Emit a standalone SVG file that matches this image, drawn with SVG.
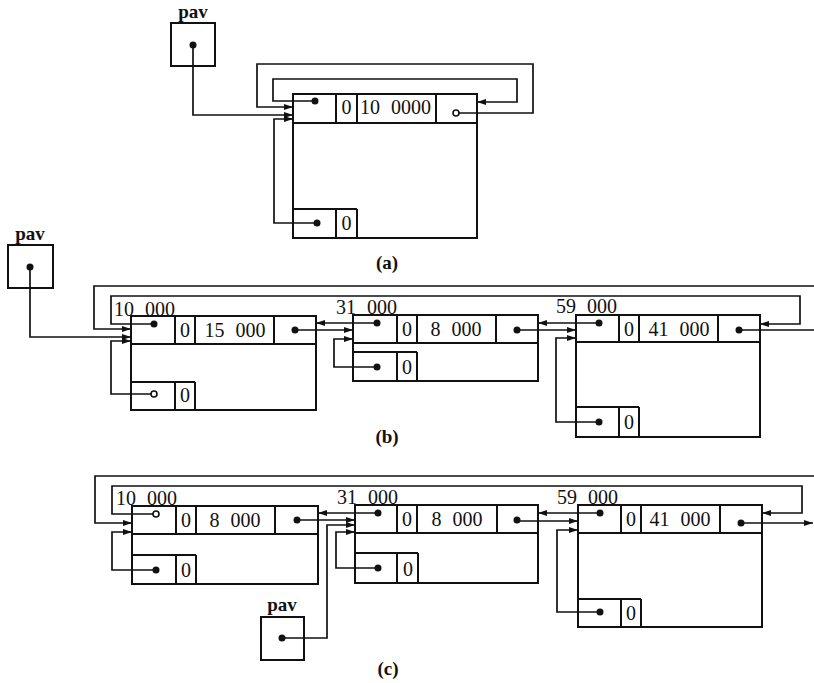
<svg xmlns="http://www.w3.org/2000/svg" width="814" height="683" viewBox="0 0 814 683">
<style>
.b{fill:none;stroke:#111;stroke-width:2}
.c{fill:none;stroke:#111;stroke-width:1.7}
.t{font-family:"Liberation Serif","DejaVu Serif",serif;font-size:20px;fill:#111;word-spacing:6px}
.m{text-anchor:middle}
.l{font-family:"Liberation Serif","DejaVu Serif",serif;font-size:19px;font-weight:bold;fill:#111;text-anchor:middle}
.d{fill:#111}
.o{fill:#fff;stroke:#111;stroke-width:1.6}
</style>
<defs>
<marker id="ar" markerWidth="9" markerHeight="6" refX="9" refY="3" orient="auto" markerUnits="userSpaceOnUse">
<path d="M0,0 L9,3 L0,6 z" fill="#111"/>
</marker>
</defs>

<rect width="814" height="683" fill="#fff"/>

<g id="connectors">
<!-- (a) -->
<path class="c" d="M193,45 V115 H293" marker-end="url(#ar)"/>
<path class="c" d="M459,113 H533 V64 H257 V107 H293" marker-end="url(#ar)"/>
<path class="c" d="M315,101 H273 V79 H517 V102 H477" marker-end="url(#ar)"/>
<path class="c" d="M317,223 H274 V119 H293" marker-end="url(#ar)"/>
<!-- (b) -->
<path class="c" d="M30,267 V337 H131" marker-end="url(#ar)"/>
<path class="c" d="M739,330 H830 V286 H94 V329 H131" marker-end="url(#ar)"/>
<path class="c" d="M154,324 H111 V296 H800 V324 H760" marker-end="url(#ar)"/>
<path class="c" d="M154,394 H111 V341 H131" marker-end="url(#ar)"/>
<path class="c" d="M295,330 H353" marker-end="url(#ar)"/>
<path class="c" d="M377,323 H316" marker-end="url(#ar)"/>
<path class="c" d="M377,367 H334 V339 H353" marker-end="url(#ar)"/>
<path class="c" d="M517,330 H576" marker-end="url(#ar)"/>
<path class="c" d="M599,323 H538" marker-end="url(#ar)"/>
<path class="c" d="M599,422 H556 V338 H576" marker-end="url(#ar)"/>
<!-- (c) -->
<path class="c" d="M741,523 H813" marker-end="url(#ar)"/>
<path class="c" d="M830,476 H95 V523 H132" marker-end="url(#ar)"/>
<path class="c" d="M153,514 H112 V486 H802 V513 H762" marker-end="url(#ar)"/>
<path class="c" d="M156,570 H112 V532 H132" marker-end="url(#ar)"/>
<path class="c" d="M297,520 H355" marker-end="url(#ar)"/>
<path class="c" d="M378,513 H318" marker-end="url(#ar)"/>
<path class="c" d="M282,638 H327 V525 H355" marker-end="url(#ar)"/>
<path class="c" d="M378,568 H336 V532 H355" marker-end="url(#ar)"/>
<path class="c" d="M517,521 H578" marker-end="url(#ar)"/>
<path class="c" d="M600,513 H538" marker-end="url(#ar)"/>
<path class="c" d="M600,612 H557 V530 H578" marker-end="url(#ar)"/>
</g>

<!-- ===== (a) ===== -->
<g id="pav-a">
<text class="l" x="193" y="18">pav</text>
<rect class="b" x="171" y="23" width="44" height="43"/>
<circle class="d" cx="193" cy="45" r="3.5"/>
</g>
<g id="block-a">
<rect class="b" x="293" y="94" width="184" height="144"/>
<path class="b" d="M293,123 H477 M336,94 V123 M357,94 V123 M436,94 V123 M293,209 H357 M336,209 V238 M357,209 V238"/>
<text class="t m" x="346.5" y="114">0</text>
<text class="t" x="360" y="114">10 0000</text>
<text class="t m" x="346.5" y="230">0</text>
<circle class="d" cx="315" cy="101" r="3.5"/>
<circle class="o" cx="456" cy="113" r="3"/>
<circle class="d" cx="317" cy="223" r="3.5"/>
</g>
<text class="l" x="387" y="269">(a)</text>

<!-- ===== (b) ===== -->
<g id="pav-b">
<text class="l" x="30" y="240">pav</text>
<rect class="b" x="8" y="245" width="45" height="43"/>
<circle class="d" cx="30" cy="267" r="3.5"/>
</g>
<g id="block-b1">
<text class="t" x="114" y="316">10 000</text>
<rect class="b" x="131" y="316" width="185" height="94"/>
<path class="b" d="M131,344 H316 M175,316 V344 M195,316 V344 M274,316 V344 M131,382 H195 M175,382 V410 M195,382 V410"/>
<text class="t m" x="185" y="337">0</text>
<text class="t m" x="235" y="337">15 000</text>
<text class="t m" x="185" y="402">0</text>
<circle class="d" cx="154" cy="324" r="3.5"/>
<circle class="d" cx="295" cy="330" r="3.5"/>
<circle class="o" cx="154" cy="394" r="3"/>
</g>
<g id="block-b2">
<text class="t" x="336" y="314">31 000</text>
<rect class="b" x="353" y="315" width="185" height="66"/>
<path class="b" d="M353,343 H538 M397,315 V343 M417,315 V343 M496,315 V343 M353,352 H417 M397,352 V381 M417,352 V381"/>
<text class="t m" x="407" y="336">0</text>
<text class="t m" x="456" y="336">8 000</text>
<text class="t m" x="407" y="374">0</text>
<circle class="d" cx="377" cy="323" r="3.5"/>
<circle class="d" cx="517" cy="330" r="3.5"/>
<circle class="d" cx="377" cy="367" r="3.5"/>
</g>
<g id="block-b3">
<text class="t" x="556" y="313">59 000</text>
<rect class="b" x="576" y="315" width="184" height="122"/>
<path class="b" d="M576,342 H760 M619,315 V342 M639,315 V342 M718,315 V342 M576,407 H639 M619,407 V437 M639,407 V437"/>
<text class="t m" x="629" y="336">0</text>
<text class="t m" x="679" y="336">41 000</text>
<text class="t m" x="629" y="429">0</text>
<circle class="d" cx="599" cy="323" r="3.5"/>
<circle class="d" cx="739" cy="330" r="3.5"/>
<circle class="d" cx="599" cy="422" r="3.5"/>
</g>
<text class="l" x="387" y="443">(b)</text>

<!-- ===== (c) ===== -->
<g id="block-c1">
<text class="t" x="116" y="505">10 000</text>
<rect class="b" x="132" y="506" width="186" height="78"/>
<path class="b" d="M132,534 H318 M176,506 V534 M196,506 V534 M275,506 V534 M132,555 H196 M176,555 V584 M196,555 V584"/>
<text class="t m" x="186" y="527">0</text>
<text class="t m" x="235" y="527">8 000</text>
<text class="t m" x="186" y="577">0</text>
<circle class="o" cx="156" cy="514" r="3"/>
<circle class="d" cx="297" cy="520" r="3.5"/>
<circle class="d" cx="156" cy="570" r="3.5"/>
</g>
<g id="block-c2">
<text class="t" x="337" y="504">31 000</text>
<rect class="b" x="355" y="505" width="183" height="78"/>
<path class="b" d="M355,533 H538 M397,505 V533 M417,505 V533 M497,505 V533 M355,553 H418 M397,553 V583 M418,553 V583"/>
<text class="t m" x="407" y="526">0</text>
<text class="t m" x="457" y="526">8 000</text>
<text class="t m" x="408" y="576">0</text>
<circle class="d" cx="378" cy="513" r="3.5"/>
<circle class="d" cx="517" cy="520" r="3.5"/>
<circle class="d" cx="378" cy="568" r="3.5"/>
</g>
<g id="block-c3">
<text class="t" x="557" y="504">59 000</text>
<rect class="b" x="578" y="505" width="184" height="122"/>
<path class="b" d="M578,533 H762 M621,505 V533 M641,505 V533 M720,505 V533 M578,599 H641 M621,599 V627 M641,599 V627"/>
<text class="t m" x="631" y="526">0</text>
<text class="t m" x="680" y="526">41 000</text>
<text class="t m" x="631" y="620">0</text>
<circle class="d" cx="600" cy="513" r="3.5"/>
<circle class="d" cx="741" cy="523" r="3.5"/>
<circle class="d" cx="600" cy="612" r="3.5"/>
</g>
<g id="pav-c">
<text class="l" x="282" y="611">pav</text>
<rect class="b" x="261" y="617" width="43" height="43"/>
<circle class="d" cx="282" cy="638" r="3.5"/>
</g>
<text class="l" x="388" y="675">(c)</text>
</svg>
